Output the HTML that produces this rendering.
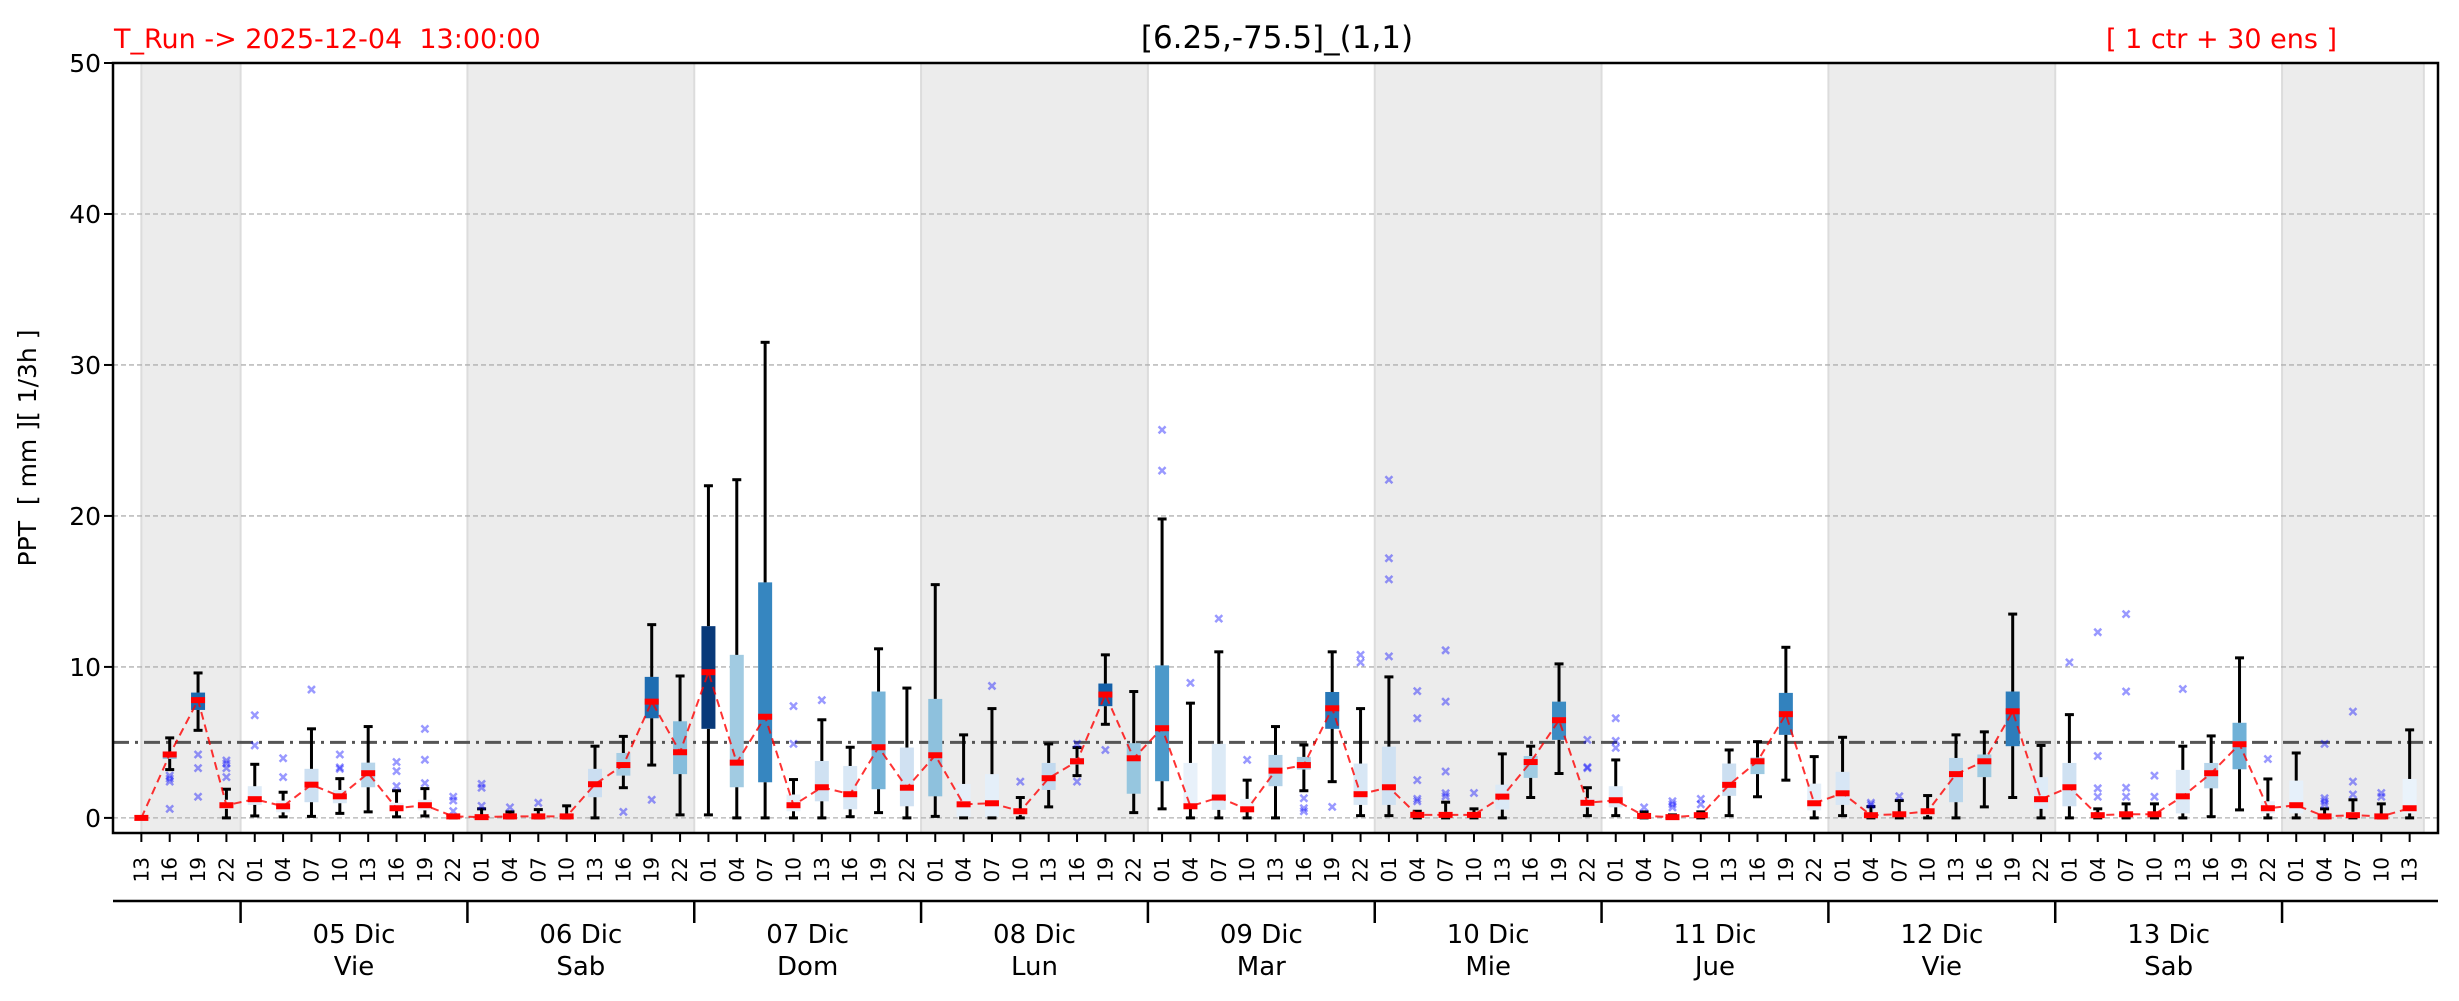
<!DOCTYPE html>
<html><head><meta charset="utf-8"><style>
html,body{margin:0;padding:0;background:#fff;}
svg{display:block;font-family:"DejaVu Sans","Liberation Sans",sans-serif;}
</style></head><body>
<svg id="chart" width="2459" height="1001" viewBox="0 0 2459 1001" xmlns="http://www.w3.org/2000/svg">
<text x="114" y="48" font-size="27" fill="#ff0000">T_Run -&gt; 2025-12-04&#160; 13:00:00</text>
<text x="1277" y="48" font-size="31" text-anchor="middle" fill="#000">[6.25,-75.5]_(1,1)</text>
<text x="2337" y="48" font-size="27" text-anchor="end" fill="#ff0000">[ 1 ctr + 30 ens ]</text>
<text transform="translate(36,448) rotate(-90)" font-size="25" text-anchor="middle" fill="#000">PPT&#160; [ mm ][ 1/3h ]</text>
<g id="shade"></g>
<g id="grid"></g>
<g id="marks"></g>
<g id="axes"></g>
</svg>
<script>
const hours = ["13","16","19","22","01","04","07","10","13","16","19","22","01","04","07","10","13","16","19","22","01","04","07","10","13","16","19","22","01","04","07","10","13","16","19","22","01","04","07","10","13","16","19","22","01","04","07","10","13","16","19","22","01","04","07","10","13","16","19","22","01","04","07","10","13","16","19","22","01","04","07","10","13","16","19","22","01","04","07","10","13"];
const medians = [0,4.2,7.8,0.84,1.24,0.77,2.2,1.43,2.96,0.64,0.84,0.1,0.05,0.1,0.1,0.1,2.23,3.5,7.7,4.35,9.65,3.66,6.7,0.84,2.03,1.57,4.68,2.0,4.15,0.9,0.97,0.44,2.63,3.75,8.17,3.95,5.94,0.77,1.35,0.57,3.13,3.5,7.26,1.57,2.03,0.2,0.2,0.2,1.41,3.7,6.47,1.0,1.17,0.13,0.05,0.18,2.19,3.75,6.87,0.97,1.63,0.18,0.24,0.44,2.9,3.75,7.06,1.24,2.03,0.18,0.24,0.24,1.43,2.96,4.88,0.64,0.84,0.1,0.18,0.1,0.64];
const q1 = [0,3.9,7.15,0.6,0.86,0.37,1.04,0.97,2.03,0.5,0.5,0.05,0,0.05,0.05,0.05,1.37,2.8,6.6,2.9,5.9,2.03,2.36,0.44,1.1,0.57,1.9,0.77,1.43,0.05,0.05,0.2,1.85,3.53,7.4,1.6,2.43,0.6,0.53,0.4,2.1,3.2,5.9,0.86,0.86,0.1,0.1,0.1,0.55,2.65,5.17,0.7,0.7,0.05,0,0.1,1.46,2.9,5.5,0.5,0.86,0.1,0.1,0.2,1.04,2.7,4.75,0.6,0.77,0.1,0.1,0.1,0.3,1.96,3.22,0.3,0.3,0.05,0.1,0.05,0.3];
const q3 = [0,4.4,8.3,1.2,2.1,1.15,3.25,1.85,3.66,1.0,1.2,0.15,0.1,0.2,0.15,0.15,3.25,4.3,9.34,6.4,12.7,10.8,15.6,1.55,3.77,3.44,8.37,4.66,7.88,2.25,2.9,0.6,3.64,3.97,8.9,4.95,10.1,3.64,4.9,1.26,4.17,4.04,8.34,3.6,4.72,0.3,0.4,0.3,2.2,4.1,7.7,1.3,2.1,0.2,0.1,0.3,3.6,4.0,8.28,2.27,3.05,0.3,0.4,0.6,3.97,4.2,8.37,2.7,3.64,0.3,0.4,0.4,3.18,3.64,6.3,1.1,2.47,0.2,0.4,0.2,2.58];
const whiskLo = [0,3.2,5.8,0,0.13,0.07,0.1,0.3,0.4,0.07,0.13,0,0,0,0,0,0,2.0,3.5,0.2,0.2,0,0,0,0,0.08,0.35,0,0.1,0,0,0,0.73,2.8,6.2,0.35,0.6,0,0,0,0,1.8,2.4,0.15,0.15,0,0,0,0,1.35,2.94,0.15,0.15,0,0,0,0.15,1.4,2.5,0,0.15,0,0,0,0,0.73,1.35,0,0,0,0,0,0,0.08,0.53,0,0,0,0,0,0];
const whiskHi = [0,5.3,9.6,1.9,3.55,1.7,5.9,2.6,6.05,1.8,1.94,0.15,0.6,0.4,0.55,0.8,4.75,5.4,12.8,9.4,22.0,22.4,31.5,2.54,6.5,4.68,11.2,8.6,15.45,5.5,7.24,1.35,4.9,4.66,10.8,8.37,19.8,7.6,11.0,2.5,6.05,4.83,11.0,7.24,9.34,0.44,1.04,0.6,4.24,4.75,10.2,2.0,3.84,0.4,0.2,0.4,4.5,5.05,11.3,4.06,5.34,0.75,1.15,1.48,5.5,5.7,13.5,4.8,6.84,0.6,0.93,0.93,4.75,5.43,10.6,2.58,4.3,0.6,1.2,0.93,5.83];
const fliers = {1:[2.8,2.6,2.4,0.6],2:[4.2,3.3,1.4],3:[3.8,3.6,3.3,2.7],4:[6.8,4.8],5:[3.95,2.7],6:[8.5],7:[4.2,3.35,3.25],9:[3.7,3.1,2.1],10:[5.9,3.85,2.3],11:[1.4,1.15,0.45],12:[2.25,2.0,0.8],13:[0.7],14:[1.0],17:[0.4],18:[1.2],23:[7.4,4.9],24:[7.8],30:[8.74],31:[2.4],33:[4.9,2.4],34:[4.5],36:[25.7,23.0],37:[8.94],38:[13.2],39:[3.84],41:[1.3,0.64,0.44],42:[0.73],43:[10.8,10.3],44:[22.4,17.2,15.8,10.7],45:[8.4,6.6,2.5,1.26,1.1],46:[11.1,7.7,3.07,1.63,1.43],47:[1.65],51:[5.17,3.36,3.3],52:[6.6,5.1,4.64],53:[0.7],54:[1.1,0.9,0.7],55:[1.26,0.9],61:[1.0,0.86],62:[1.43],68:[10.3],69:[12.3,4.1,1.96,1.4],70:[13.5,8.37,2.0,1.4],71:[2.8,1.4],72:[8.54],75:[3.9],77:[4.9,1.3,1.1,0.9],78:[7.04,2.4,1.55],79:[1.65,1.4]};
const dayLabels = ["05 Dic","06 Dic","07 Dic","08 Dic","09 Dic","10 Dic","11 Dic","12 Dic","13 Dic"];
const weekdays = ["Vie","Sab","Dom","Lun","Mar","Mie","Jue","Vie","Sab"];
const yTicks = [0,10,20,30,40,50];
const threshold = 5;

const NS="http://www.w3.org/2000/svg";
const L=113,R=2438,T=63,B=833, XMIN=-1, XMAX=81, YMIN=-1, YMAX=50;
const xs=i=>L+(i-XMIN)*(R-L)/(XMAX-XMIN);
const ys=v=>B-(v-YMIN)*(B-T)/(YMAX-YMIN);
function mk(parent,tag,attrs){const e=document.createElementNS(NS,tag);for(const k in attrs)e.setAttribute(k,attrs[k]);parent.appendChild(e);return e;}
const stops=["#f7fbff","#deebf7","#c6dbef","#9ecae1","#6baed6","#4292c6","#2171b5","#08519c","#08306b"];
function blues(t){t=Math.max(0,Math.min(1,t));const p=t*8,i=Math.min(7,Math.floor(p)),f=p-i;
 const a=stops[i],b=stops[i+1];const c=[1,3,5].map(k=>Math.round(parseInt(a.substr(k,2),16)*(1-f)+parseInt(b.substr(k,2),16)*f));
 return "rgb("+c.join(",")+")";}

const shade=document.getElementById('shade'),grid=document.getElementById('grid'),marks=document.getElementById('marks'),axes=document.getElementById('axes');
const n=hours.length;
const bounds=[];for(let i=1;i<n;i++){if(hours[i]==="01")bounds.push(i-0.5);}
const edges=[0].concat(bounds).concat([n-0.5]);
for(let d=0;d<edges.length-1;d+=2){
 const r=mk(shade,'rect',{x:xs(edges[d]),y:T,width:xs(edges[d+1])-xs(edges[d]),height:B-T,fill:"#ececec",stroke:"#dcdcdc","stroke-width":2});
 
 
}
yTicks.forEach(v=>{
 const g=mk(grid,'line',{x1:L,x2:R,y1:ys(v),y2:ys(v),stroke:"#b0b0b0","stroke-width":1.3,"stroke-dasharray":"5,3"});
 
 
});
const th=mk(grid,'line',{x1:L,x2:R,y1:ys(threshold),y2:ys(threshold),stroke:"#555","stroke-width":3,"stroke-dasharray":"16,6,3,6"});



const BW=14,CW=9;
for(let i=0;i<n;i++){
 const x=xs(i);
 const g=mk(marks,'g',{});
 
 
 mk(g,'rect',{x:x-BW/2,y:ys(q3[i]),width:BW,height:Math.max(0,ys(q1[i])-ys(q3[i])),fill:blues(medians[i]/10)});
 mk(g,'line',{x1:x,x2:x,y1:ys(q3[i]),y2:ys(whiskHi[i]),stroke:"#000","stroke-width":3});
 mk(g,'line',{x1:x,x2:x,y1:ys(q1[i]),y2:ys(whiskLo[i]),stroke:"#000","stroke-width":3});
 mk(g,'line',{x1:x-CW/2,x2:x+CW/2,y1:ys(whiskHi[i]),y2:ys(whiskHi[i]),stroke:"#000","stroke-width":3});
 mk(g,'line',{x1:x-CW/2,x2:x+CW/2,y1:ys(whiskLo[i]),y2:ys(whiskLo[i]),stroke:"#000","stroke-width":3});
 (fliers[i]||[]).forEach(v=>{const y=ys(v);
  const f=mk(g,'path',{d:`M${x-3.5},${y-3.5}L${x+3.5},${y+3.5}M${x-3.5},${y+3.5}L${x+3.5},${y-3.5}`,stroke:"#0000ff","stroke-opacity":0.4,"stroke-width":2.5});
  
  
 });
}
let pts=[];for(let i=0;i<n;i++)pts.push(xs(i)+","+ys(medians[i]));
const ml=mk(marks,'polyline',{points:pts.join(" "),fill:"none",stroke:"#ff0000","stroke-opacity":0.8,"stroke-width":2,"stroke-dasharray":"8,5"});


for(let i=0;i<n;i++){
 const m=mk(marks,'rect',{x:xs(i)-BW/2,y:ys(medians[i])-3,width:BW,height:6,fill:"#ff0000"});
 
 
}
const fr=mk(axes,'rect',{x:L,y:T,width:R-L,height:B-T,fill:"none",stroke:"#000","stroke-width":2.5});


yTicks.forEach(v=>{
 mk(axes,'line',{x1:L-9,x2:L,y1:ys(v),y2:ys(v),stroke:"#000","stroke-width":2});
 const t=mk(axes,'text',{x:L-12,y:ys(v)+9,"font-size":25,"text-anchor":"end",fill:"#000"});
 t.textContent=v;
 
 
});
for(let i=0;i<n;i++){
 const x=xs(i);
 mk(axes,'line',{x1:x,x2:x,y1:B,y2:B+9,stroke:"#000","stroke-width":2});
 const t=mk(axes,'text',{transform:`translate(${x+7},857) rotate(-90)`,"font-size":20,"text-anchor":"end",fill:"#000"});
 t.textContent=hours[i];
 
 
}
const da=mk(axes,'line',{x1:L,x2:R,y1:901,y2:901,stroke:"#000","stroke-width":2.5});


bounds.forEach(b=>{mk(axes,'line',{x1:xs(b),x2:xs(b),y1:901,y2:923,stroke:"#000","stroke-width":2.5});});
for(let d=0;d<dayLabels.length;d++){
 const c=xs((bounds[d]+bounds[d+1])/2);
 const t1=mk(axes,'text',{x:c,y:943,"font-size":26,"text-anchor":"middle",fill:"#000"});
 t1.textContent=dayLabels[d];
 
 
 const t2=mk(axes,'text',{x:c,y:975,"font-size":26,"text-anchor":"middle",fill:"#000"});
 t2.textContent=weekdays[d];
 
 
}
</script>
</body></html>
